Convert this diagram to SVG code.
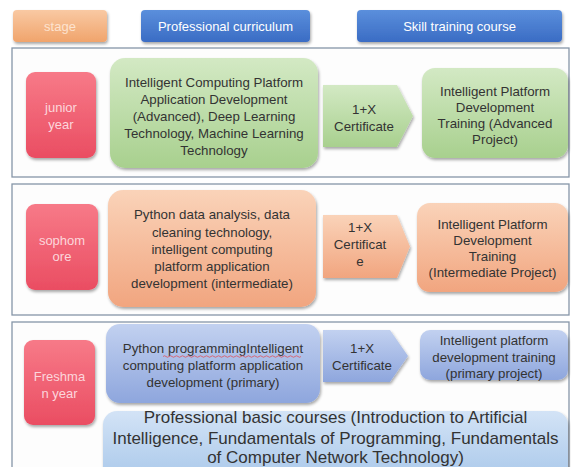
<svg xmlns="http://www.w3.org/2000/svg" width="571" height="467" viewBox="0 0 571 467">
<defs>
  <linearGradient id="gOrangeH" x1="0" y1="0" x2="0" y2="1"><stop offset="0" stop-color="#f9c9a3"/><stop offset="1" stop-color="#f0a46c"/></linearGradient>
  <linearGradient id="gBlueH" x1="0" y1="0" x2="0" y2="1"><stop offset="0" stop-color="#5b8fdc"/><stop offset="1" stop-color="#3a6cc4"/></linearGradient>
  <linearGradient id="gPink" x1="0" y1="0" x2="0" y2="1"><stop offset="0" stop-color="#f77a88"/><stop offset="1" stop-color="#ea4d62"/></linearGradient>
  <linearGradient id="gGreen" x1="0" y1="0" x2="0" y2="1"><stop offset="0" stop-color="#d3e9c4"/><stop offset="1" stop-color="#a8d08e"/></linearGradient>
  <linearGradient id="gOrange" x1="0" y1="0" x2="0" y2="1"><stop offset="0" stop-color="#fad3b9"/><stop offset="1" stop-color="#f1a57f"/></linearGradient>
  <linearGradient id="gBlue" x1="0" y1="0" x2="0" y2="1"><stop offset="0" stop-color="#c2d1f0"/><stop offset="1" stop-color="#8ea6dd"/></linearGradient>
  <linearGradient id="gBlueL" x1="0" y1="0" x2="0" y2="1"><stop offset="0" stop-color="#d3e3f6"/><stop offset="1" stop-color="#a9c8ea"/></linearGradient>
  <filter id="sh" x="-10%" y="-10%" width="125%" height="130%">
    <feGaussianBlur in="SourceAlpha" stdDeviation="1.5"/>
    <feOffset dx="1" dy="2" result="b"/>
    <feComponentTransfer><feFuncA type="linear" slope="0.35"/></feComponentTransfer>
    <feMerge><feMergeNode/><feMergeNode in="SourceGraphic"/></feMerge>
  </filter>
</defs>
<style>
  text { font-family: "Liberation Sans", Arial, sans-serif; text-anchor: middle; }
  .hd { font-size: 13px; fill: #ffffff; }
  .hs { font-size: 13px; fill: #fde3cf; }
  .yr { font-size: 13px; fill: #fcd6dc; }
  .tx { font-size: 13.3px; fill: #333333; }
  .big { font-size: 17px; fill: #333333; }
  .panel { fill: #fdfdfd; stroke: #8696a8; stroke-width: 1.3; }
</style>

<g id="header">
  <g id="h-stage"><rect x="13" y="10" width="94" height="32" rx="4" fill="url(#gOrangeH)" filter="url(#sh)"/><text class="hs" x="60" y="30.5">stage</text></g>
  <g id="h-prof"><rect x="141" y="10" width="169" height="32" rx="4" fill="url(#gBlueH)" filter="url(#sh)"/><text class="hd" x="225.5" y="30.5">Professional curriculum</text></g>
  <g id="h-skill"><rect x="357" y="10" width="205" height="32" rx="4" fill="url(#gBlueH)" filter="url(#sh)"/><text class="hd" x="459.5" y="30.5">Skill training course</text></g>
</g>

<g id="panels">
  <rect class="panel" x="12" y="48" width="557" height="129"/>
  <rect class="panel" x="12" y="184" width="557" height="131"/>
  <rect class="panel" x="12" y="322" width="557" height="150"/>
</g>

<g id="junior">
  <g id="junior-year"><rect x="26" y="72" width="70" height="86" rx="9" fill="url(#gPink)" filter="url(#sh)"/>
    <text class="yr" x="61" y="112">junior</text><text class="yr" x="61" y="129">year</text></g>
  <g id="junior-curr"><rect x="110" y="58" width="208" height="110" rx="15" fill="url(#gGreen)" filter="url(#sh)"/>
    <text class="tx" x="214" y="87">Intelligent Computing Platform</text>
    <text class="tx" x="214" y="104">Application Development</text>
    <text class="tx" x="214" y="121">(Advanced), Deep Learning</text>
    <text class="tx" x="214" y="138">Technology, Machine Learning</text>
    <text class="tx" x="214" y="155">Technology</text></g>
  <g id="junior-cert"><polygon points="323,85 397,85 413,116 397,147 323,147" fill="url(#gGreen)" filter="url(#sh)"/>
    <text class="tx" x="364" y="114">1+X</text><text class="tx" x="364" y="131">Certificate</text></g>
  <g id="junior-skill"><rect x="422" y="68" width="146" height="90" rx="13" fill="url(#gGreen)" filter="url(#sh)"/>
    <text class="tx" x="495" y="96">Intelligent Platform</text>
    <text class="tx" x="495" y="112">Development</text>
    <text class="tx" x="495" y="128">Training (Advanced</text>
    <text class="tx" x="495" y="144">Project)</text></g>
</g>

<g id="sophomore">
  <g id="soph-year"><rect x="26" y="204" width="72" height="86" rx="9" fill="url(#gPink)" filter="url(#sh)"/>
    <text class="yr" x="62" y="245">sophom</text><text class="yr" x="62" y="261">ore</text></g>
  <g id="soph-curr"><rect x="108" y="190" width="208" height="117" rx="15" fill="url(#gOrange)" filter="url(#sh)"/>
    <text class="tx" x="212" y="219">Python data analysis, data</text>
    <text class="tx" x="212" y="237">cleaning technology,</text>
    <text class="tx" x="212" y="254">intelligent computing</text>
    <text class="tx" x="212" y="271">platform application</text>
    <text class="tx" x="212" y="288">development (intermediate)</text></g>
  <g id="soph-cert"><polygon points="323,215 397,215 410,246.5 397,278 323,278" fill="url(#gOrange)" filter="url(#sh)"/>
    <text class="tx" x="360" y="232">1+X</text><text class="tx" x="360" y="249">Certificat</text><text class="tx" x="360" y="266">e</text></g>
  <g id="soph-skill"><rect x="417" y="203" width="151" height="89" rx="13" fill="url(#gOrange)" filter="url(#sh)"/>
    <text class="tx" x="492.5" y="229">Intelligent Platform</text>
    <text class="tx" x="492.5" y="245">Development</text>
    <text class="tx" x="492.5" y="261">Training</text>
    <text class="tx" x="492.5" y="277">(Intermediate Project)</text></g>
</g>

<g id="freshman">
  <g id="fresh-year"><rect x="24" y="340" width="71" height="85" rx="9" fill="url(#gPink)" filter="url(#sh)"/>
    <text class="yr" x="59.5" y="381">Freshma</text><text class="yr" x="59.5" y="398">n year</text></g>
  <g id="fresh-curr"><rect x="106" y="324" width="214" height="79" rx="14" fill="url(#gBlue)" filter="url(#sh)"/>
    <text class="tx" x="213" y="353">Python programmingIntelligent</text>
    <path d="M163,356.5 q1.5,-1.5 3,0 t3,0 t3,0 t3,0 t3,0 t3,0 t3,0 t3,0 t3,0 t3,0 t3,0 t3,0 t3,0 t3,0 t3,0 t3,0 t3,0 t3,0 t3,0 t3,0 t3,0 t3,0 t3,0 t3,0 t3,0 t3,0 t3,0 t3,0 t3,0 t3,0 t3,0 t3,0 t3,0 t3,0 t3,0 t3,0 t3,0 t3,0 t3,0 t3,0 t3,0 t3,0 t3,0 t3,0 t3,0 t3,0" fill="none" stroke="#e0505a" stroke-width="0.8"/>
    <text class="tx" x="213" y="370">computing platform application</text>
    <text class="tx" x="213" y="387">development (primary)</text></g>
  <g id="fresh-cert"><polygon points="323,330 390,330 408,356 390,382 323,382" fill="url(#gBlue)" filter="url(#sh)"/>
    <text class="tx" x="362" y="353">1+X</text><text class="tx" x="362" y="370">Certificate</text></g>
  <g id="fresh-skill"><rect x="420" y="330" width="148" height="50" rx="10" fill="url(#gBlue)" filter="url(#sh)"/>
    <text class="tx" x="494" y="345">Intelligent platform</text>
    <text class="tx" x="494" y="362">development training</text>
    <text class="tx" x="494" y="378">(primary project)</text></g>
  <g id="fresh-basic"><rect x="103" y="411" width="465" height="70" rx="14" fill="url(#gBlueL)" filter="url(#sh)"/>
    <text class="big" x="335.5" y="423">Professional basic courses (Introduction to Artificial</text>
    <text class="big" x="335.5" y="444">Intelligence, Fundamentals of Programming, Fundamentals</text>
    <text class="big" x="335.5" y="463">of Computer Network Technology)</text></g>
</g>
</svg>
